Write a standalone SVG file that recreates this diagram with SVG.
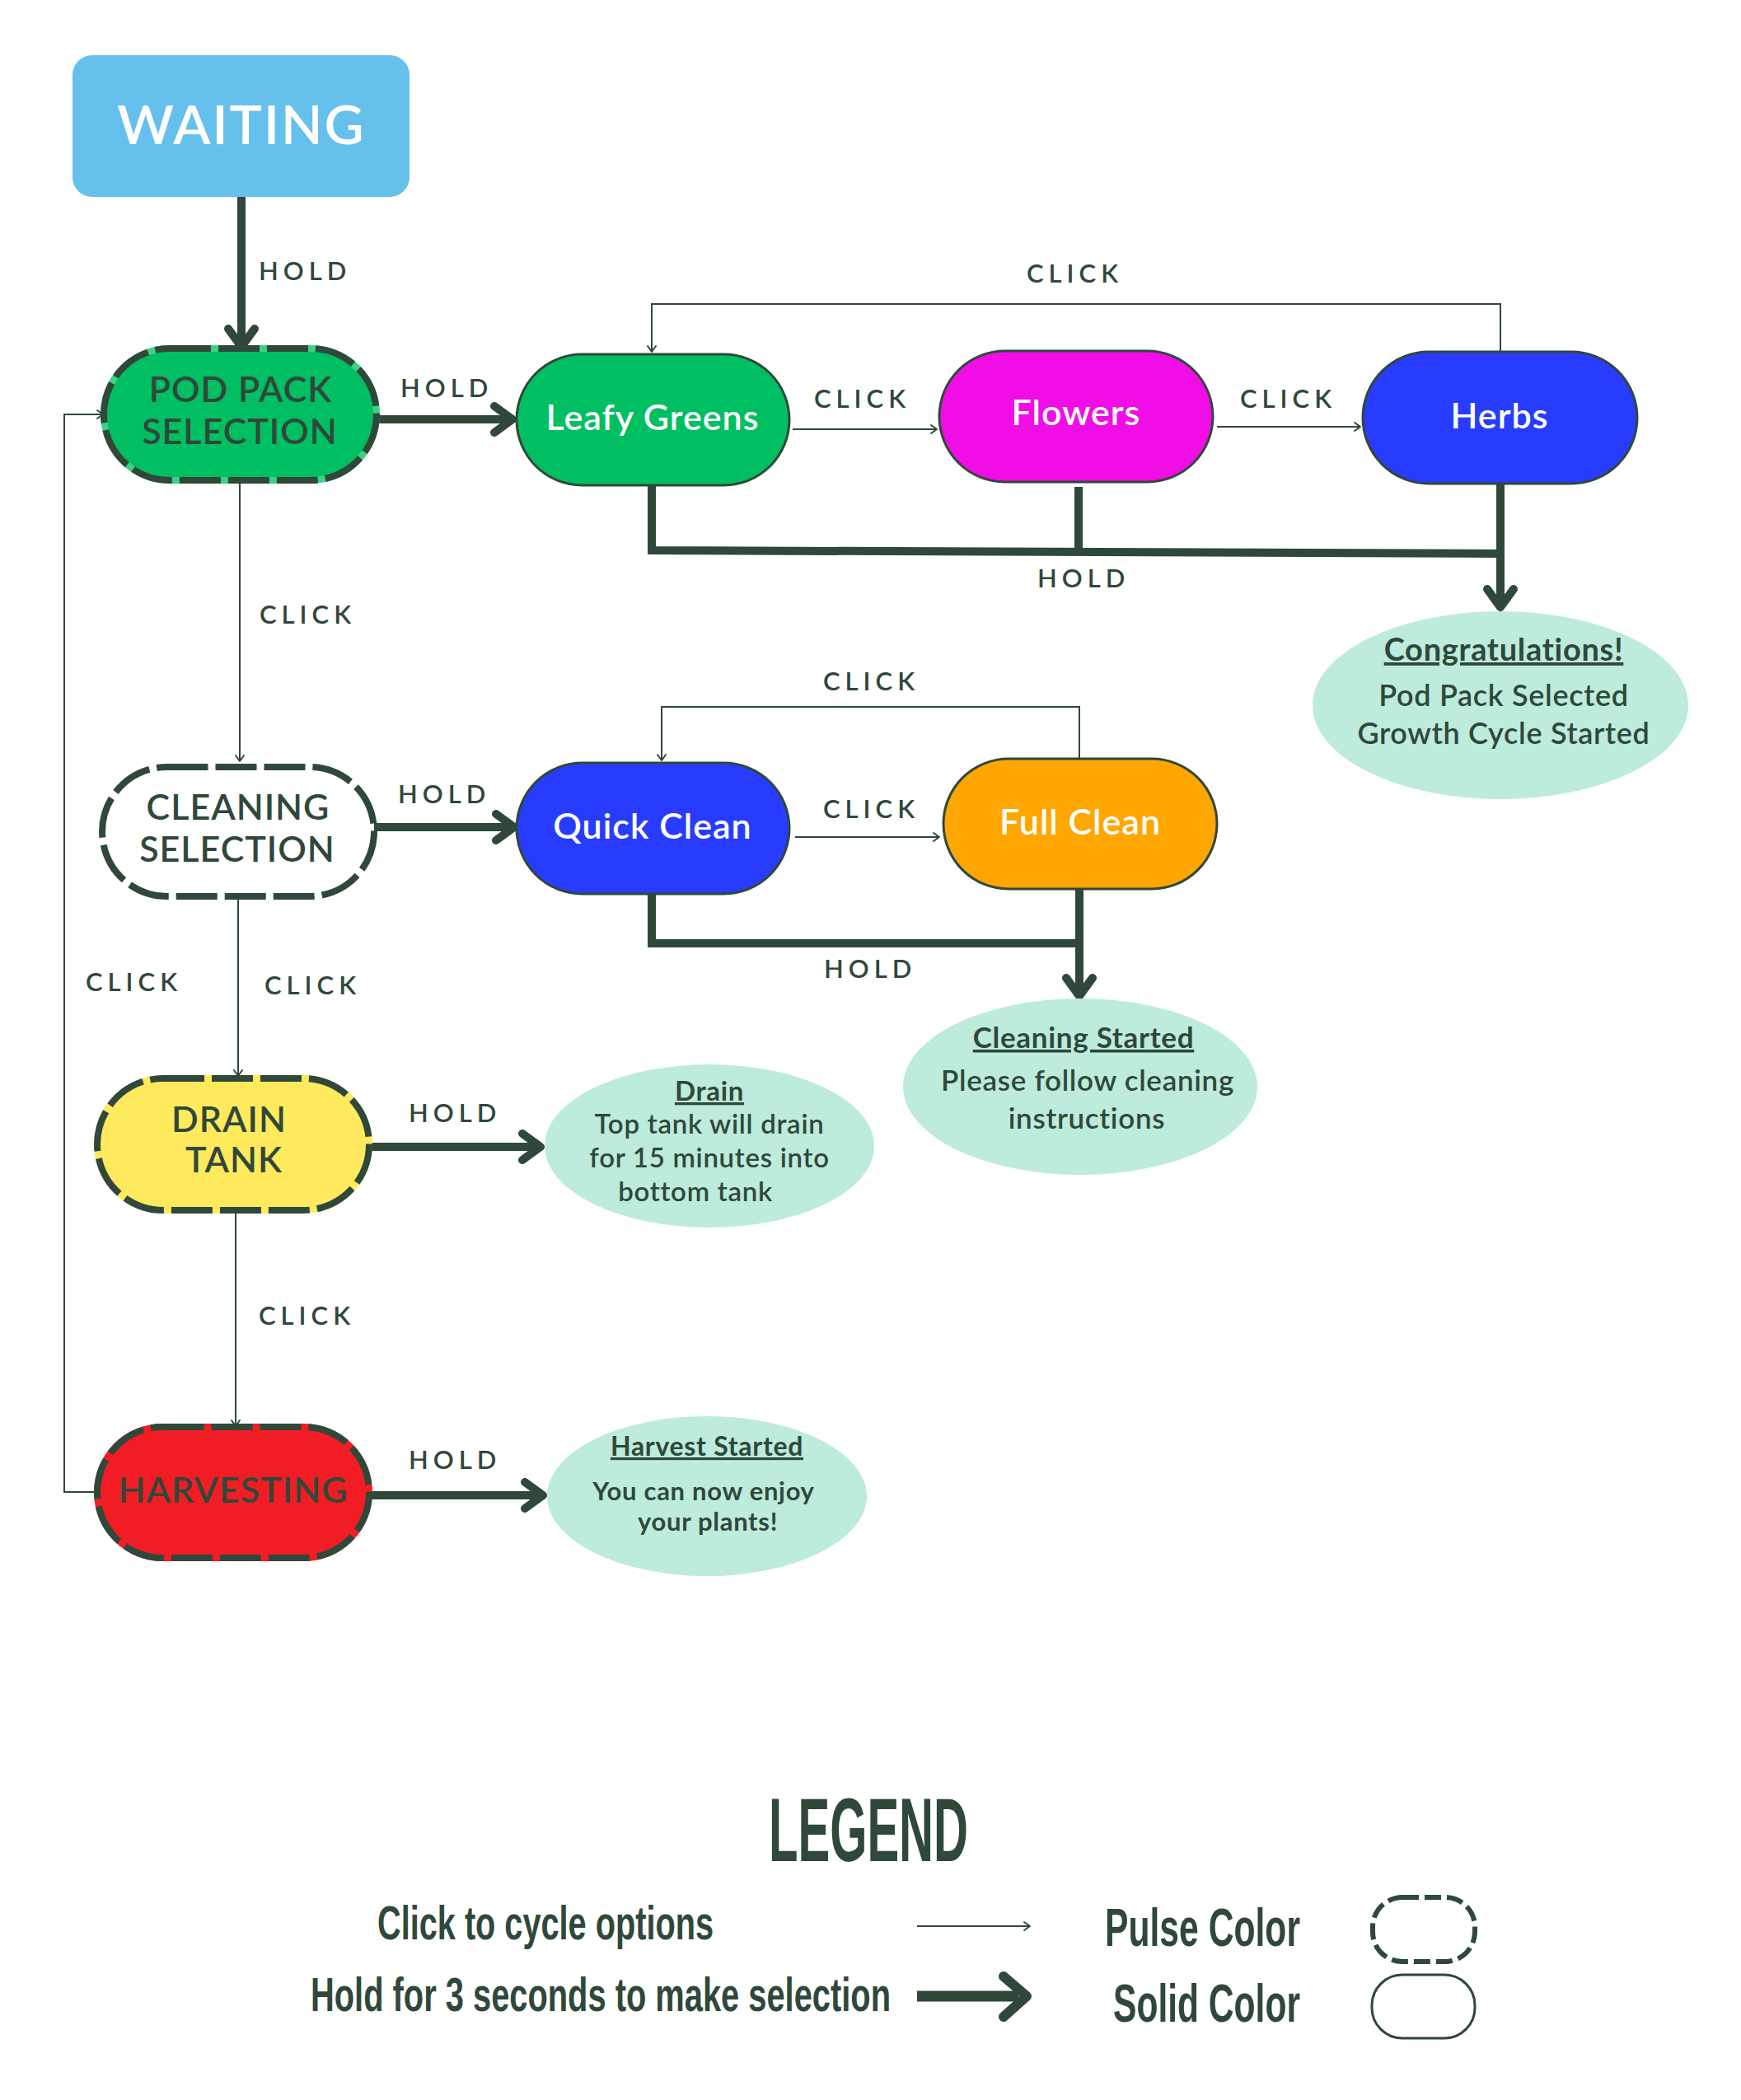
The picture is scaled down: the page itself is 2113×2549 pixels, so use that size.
<svg xmlns="http://www.w3.org/2000/svg" width="2113" height="2549" viewBox="0 0 2113 2549">
<style>
.lbl{font-family:Lato,"Liberation Sans",sans-serif;font-size:31px;font-weight:600;letter-spacing:6px;fill:#2F483A}
.nt{font-family:Lato,"Liberation Sans",sans-serif;font-size:43px;font-weight:600;letter-spacing:1px;text-anchor:middle}
.dk{fill:#2F483A}
.wt{fill:#FFFFFF}
.et{font-family:Lato,"Liberation Sans",sans-serif;fill:#2F483A;text-anchor:middle;font-weight:600;letter-spacing:0.7px}
.eh{font-weight:700;text-decoration:underline}
.eb{font-weight:700}
.thick{fill:none;stroke:#2F483A;stroke-width:10}
.thin{fill:none;stroke:#2F483A;stroke-width:2}
.solid{stroke:#2F483A;stroke-width:3}
.dash{fill:none;stroke:#2F483A;stroke-width:8;stroke-dasharray:50 9}
.ell{fill:#BDEBDC}
.lg{font-family:"Liberation Sans",Arial,sans-serif;font-weight:700;fill:#2F483A}
</style>
<defs>
<marker id="mThick" markerUnits="userSpaceOnUse" markerWidth="80" markerHeight="80" viewBox="-40 -40 80 80" refX="0" refY="0" orient="auto" overflow="visible">
<path d="M-18,-16 L4,0 L-18,16" fill="none" stroke="#2F483A" stroke-width="10" stroke-linecap="round" stroke-linejoin="round"/>
</marker>
<marker id="mThin" markerUnits="userSpaceOnUse" markerWidth="20" markerHeight="20" viewBox="-10 -10 20 20" refX="0" refY="0" orient="auto" overflow="visible">
<path d="M-7,-5 L0,0 L-7,5" fill="none" stroke="#2F483A" stroke-width="2" stroke-linecap="round" stroke-linejoin="round"/>
</marker>
</defs>
<rect width="2113" height="2549" fill="#FFFFFF"/>

<g id="connectors">
<path class="thick" d="M293,239 V417" marker-end="url(#mThick)"/>
<path class="thick" d="M457,509 H618" marker-end="url(#mThick)"/>
<path class="thick" d="M791,589 V668 L1821,672"/>
<path class="thick" d="M1309,591 V671"/>
<path class="thick" d="M1821,587 V733" marker-end="url(#mThick)"/>
<path class="thick" d="M454,1004 H620" marker-end="url(#mThick)"/>
<path class="thick" d="M791,1085 V1145 H1310"/>
<path class="thick" d="M1310,1079 V1205" marker-end="url(#mThick)"/>
<path class="thick" d="M448,1392 H652" marker-end="url(#mThick)"/>
<path class="thick" d="M448,1815 H655" marker-end="url(#mThick)"/>

<path class="thin" d="M1821,427 V369 H791 V427" marker-end="url(#mThin)"/>
<path class="thin" d="M962,521 H1137" marker-end="url(#mThin)"/>
<path class="thin" d="M1477,518 H1651" marker-end="url(#mThin)"/>
<path class="thin" d="M291,583 V924" marker-end="url(#mThin)"/>
<path class="thin" d="M1310,921 V858 H803 V923" marker-end="url(#mThin)"/>
<path class="thin" d="M965,1016 H1140" marker-end="url(#mThin)"/>
<path class="thin" d="M289,1088 V1306" marker-end="url(#mThin)"/>
<path class="thin" d="M286,1469 V1731" marker-end="url(#mThin)"/>
<path class="thin" d="M118,1811 H78 V503 H125" marker-end="url(#mThin)"/>

<text class="lbl" x="314" y="340">HOLD</text>
<text class="lbl" x="486" y="482">HOLD</text>
<text class="lbl" x="1246" y="343">CLICK</text>
<text class="lbl" x="988" y="495">CLICK</text>
<text class="lbl" x="1505" y="495">CLICK</text>
<text class="lbl" x="1259" y="713">HOLD</text>
<text class="lbl" x="315" y="757">CLICK</text>
<text class="lbl" x="483" y="975">HOLD</text>
<text class="lbl" x="999" y="838">CLICK</text>
<text class="lbl" x="999" y="993">CLICK</text>
<text class="lbl" x="1000" y="1187">HOLD</text>
<text class="lbl" x="104" y="1203">CLICK</text>
<text class="lbl" x="321" y="1207">CLICK</text>
<text class="lbl" x="496" y="1362">HOLD</text>
<text class="lbl" x="314" y="1608">CLICK</text>
<text class="lbl" x="496" y="1783">HOLD</text>
</g>

<g id="waiting">
<rect x="88" y="67" width="409" height="172" rx="24" fill="#66C0EC"/>
<text class="nt wt" x="293" y="175" style="font-size:66px;letter-spacing:2px">WAITING</text>
</g>

<g id="pod-pack-selection">
<rect x="126" y="423" width="331" height="160" rx="80" fill="#00BF63" stroke="#3ED184" stroke-width="8"/>
<rect class="dash" x="126" y="423" width="331" height="160" rx="80"/>
<text class="nt dk" x="292" y="488">POD PACK</text>
<text class="nt dk" x="291" y="539">SELECTION</text>
</g>

<g id="leafy-greens">
<rect class="solid" x="627" y="430" width="331" height="159" rx="79.5" fill="#00BF63"/>
<text class="nt wt" x="792" y="522">Leafy Greens</text>
</g>

<g id="flowers">
<rect class="solid" x="1140" y="426" width="332" height="159" rx="79.5" fill="#F00DE6"/>
<text class="nt wt" x="1306" y="516">Flowers</text>
</g>

<g id="herbs">
<rect class="solid" x="1654" y="427" width="333" height="160" rx="80" fill="#283CFF"/>
<text class="nt wt" x="1820" y="520">Herbs</text>
</g>

<g id="congratulations">
<ellipse class="ell" cx="1821" cy="856" rx="228" ry="114"/>
<text class="et eh" x="1825" y="802" font-size="38">Congratulations!</text>
<text class="et" x="1825" y="857" font-size="36">Pod Pack Selected</text>
<text class="et" x="1825" y="903" font-size="36">Growth Cycle Started</text>
</g>

<g id="cleaning-selection">
<rect x="124" y="931" width="330" height="157" rx="78.5" fill="#FFFFFF"/>
<rect class="dash" x="124" y="931" width="330" height="157" rx="78.5"/>
<text class="nt dk" x="289" y="995">CLEANING</text>
<text class="nt dk" x="288" y="1046">SELECTION</text>
</g>

<g id="quick-clean">
<rect class="solid" x="627" y="926" width="331" height="159" rx="79.5" fill="#283CFF"/>
<text class="nt wt" x="792" y="1018">Quick Clean</text>
</g>

<g id="full-clean">
<rect class="solid" x="1145" y="921" width="332" height="158" rx="79" fill="#FFA600"/>
<text class="nt wt" x="1311" y="1013">Full Clean</text>
</g>

<g id="cleaning-started">
<ellipse class="ell" cx="1311" cy="1319" rx="215" ry="107"/>
<text class="et eh" x="1315" y="1272" font-size="35">Cleaning Started</text>
<text class="et" x="1320" y="1324" font-size="35">Please follow cleaning</text>
<text class="et" x="1319" y="1370" font-size="35">instructions</text>
</g>

<g id="drain-tank">
<rect x="118" y="1309" width="330" height="160" rx="80" fill="#FFE95C" stroke="#FFE95C" stroke-width="8"/>
<rect class="dash" x="118" y="1309" width="330" height="160" rx="80"/>
<text class="nt dk" x="278" y="1374">DRAIN</text>
<text class="nt dk" x="284" y="1423">TANK</text>
</g>

<g id="drain">
<ellipse class="ell" cx="861" cy="1391" rx="200" ry="99"/>
<text class="et eh" x="861" y="1336" font-size="33">Drain</text>
<text class="et" x="861" y="1376" font-size="33">Top tank will drain</text>
<text class="et" x="861" y="1417" font-size="33">for 15 minutes into</text>
<text class="et" x="844" y="1458" font-size="33">bottom tank</text>
</g>

<g id="harvesting">
<rect x="118" y="1732" width="330" height="159" rx="79.5" fill="#F21D24" stroke="#F21D24" stroke-width="8"/>
<rect class="dash" x="118" y="1732" width="330" height="159" rx="79.5"/>
<text class="nt dk" x="283" y="1824">HARVESTING</text>
</g>

<g id="harvest-started">
<ellipse class="ell" cx="858" cy="1816" rx="194" ry="97"/>
<text class="et eh" x="858" y="1767" font-size="32">Harvest Started</text>
<text class="et eb" x="854" y="1821" font-size="31">You can now enjoy</text>
<text class="et eb" x="859" y="1858" font-size="31">your plants!</text>
</g>

<g id="legend">
<text class="lg" x="933" y="2259" font-size="110" textLength="242" lengthAdjust="spacingAndGlyphs">LEGEND</text>
<text class="lg" x="458" y="2354" font-size="57" textLength="408" lengthAdjust="spacingAndGlyphs">Click to cycle options</text>
<text class="lg" x="377" y="2441" font-size="57" textLength="704" lengthAdjust="spacingAndGlyphs">Hold for 3 seconds to make selection</text>
<path class="thin" d="M1113,2338 H1250" marker-end="url(#mThin)"/>
<path d="M1113,2423 H1236" fill="none" stroke="#2F483A" stroke-width="13"/>
<path d="M1218,2399 L1246,2423 L1218,2448" fill="none" stroke="#2F483A" stroke-width="12" stroke-linecap="round" stroke-linejoin="round"/>
<text class="lg" x="1341" y="2362" font-size="64" textLength="237" lengthAdjust="spacingAndGlyphs">Pulse Color</text>
<text class="lg" x="1351" y="2454" font-size="64" textLength="227" lengthAdjust="spacingAndGlyphs">Solid Color</text>
<rect x="1666" y="2303" width="124" height="78" rx="36" fill="none" stroke="#2F483A" stroke-width="6" stroke-dasharray="20 7"/>
<rect x="1665" y="2397" width="125" height="77" rx="37" fill="none" stroke="#2F483A" stroke-width="3"/>
</g>
</svg>
